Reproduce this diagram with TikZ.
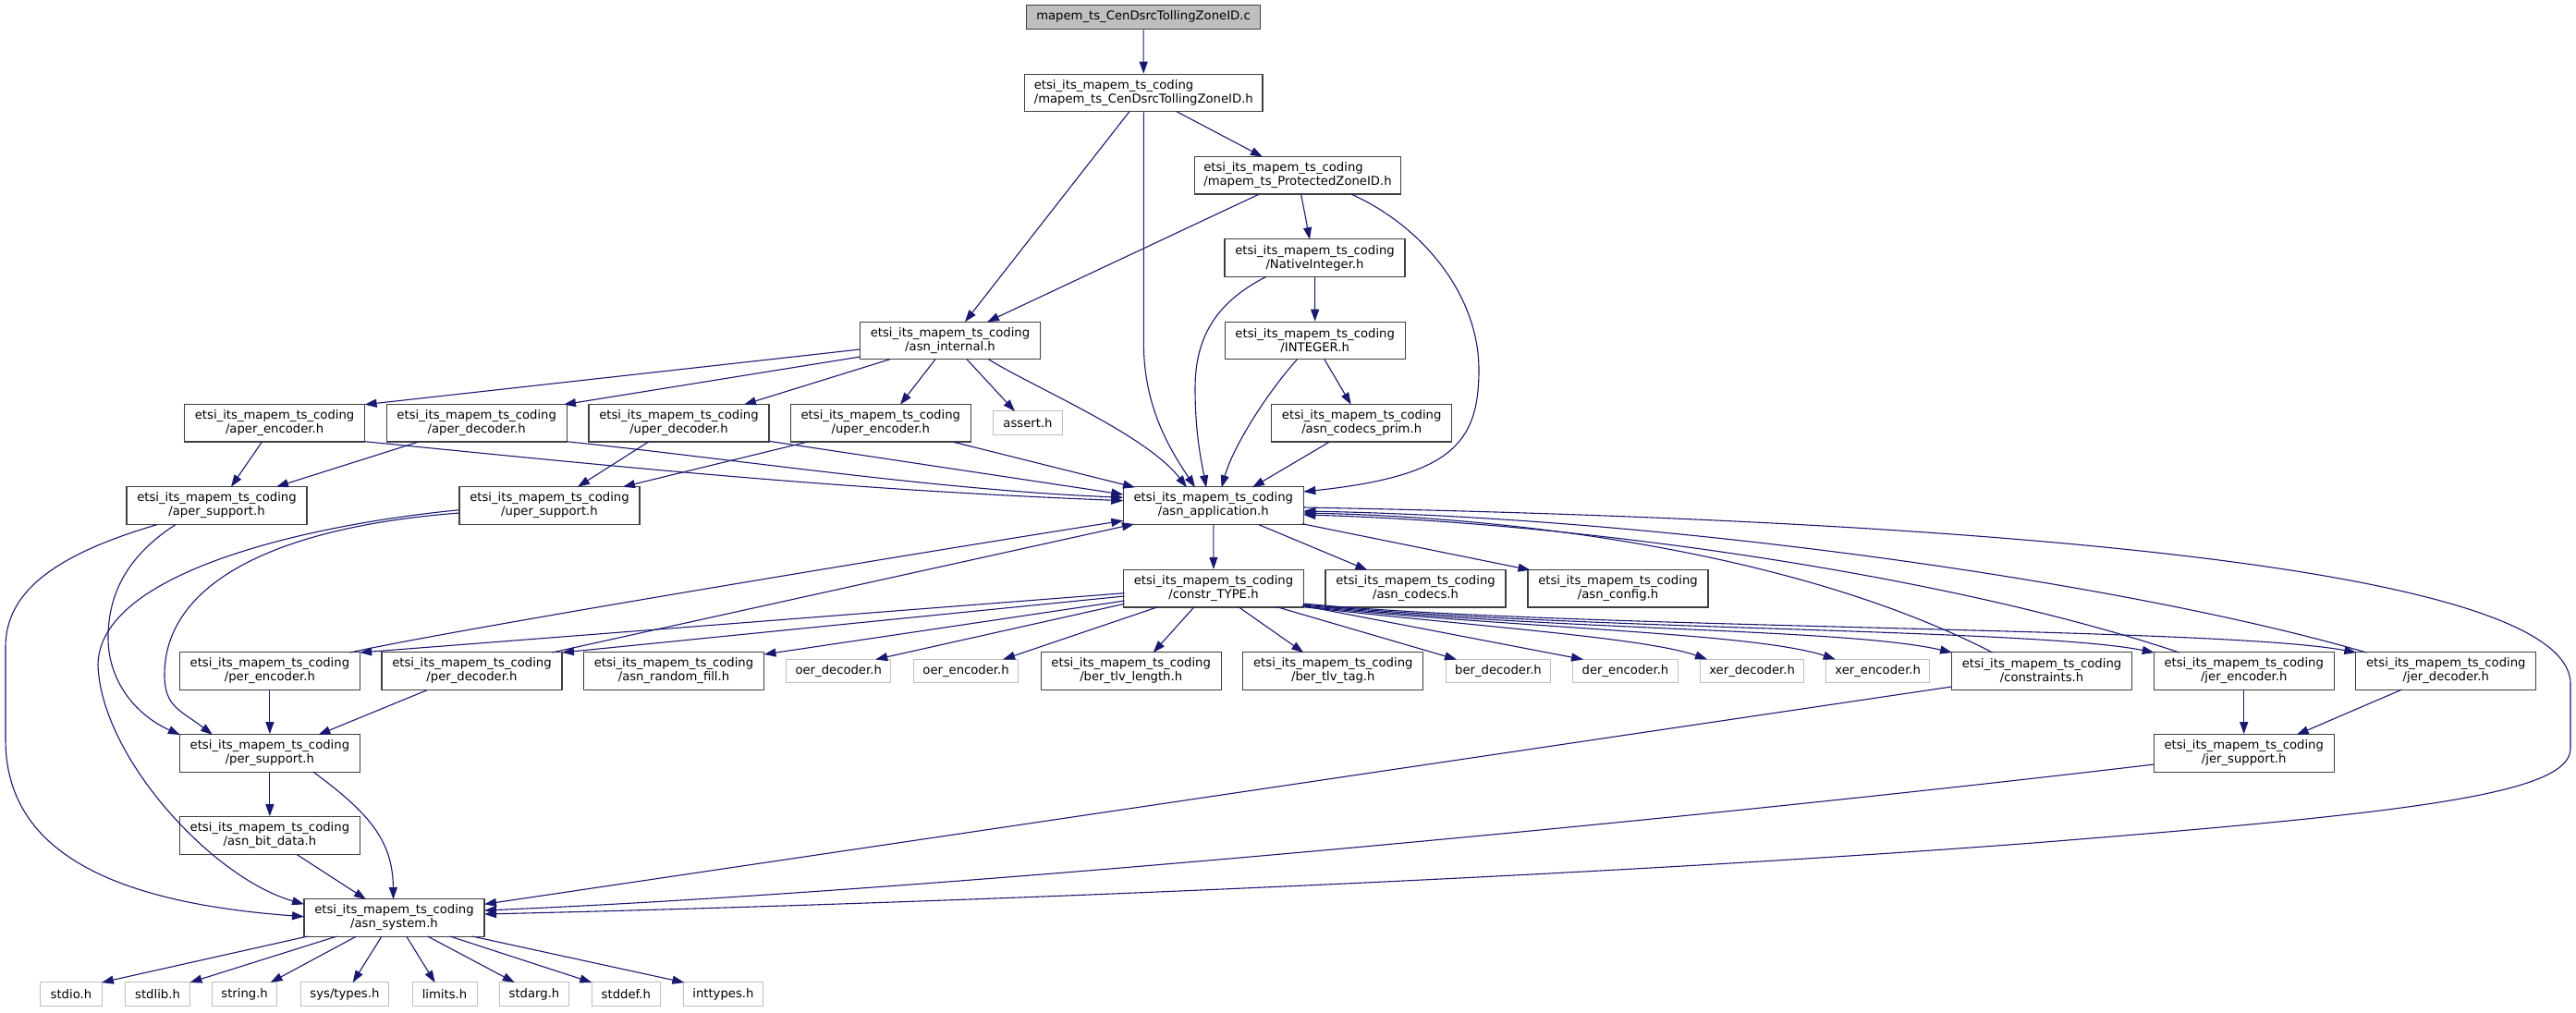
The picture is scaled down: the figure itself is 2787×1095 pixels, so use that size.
\documentclass[tikz,border=0pt]{standalone}
\usepackage{fontspec}
\setmainfont{DejaVu Sans}
\usetikzlibrary{arrows.meta}
\definecolor{edgec}{HTML}{191970}
\definecolor{nodeb}{HTML}{404040}
\definecolor{sysb}{HTML}{BFBFBF}
\definecolor{topf}{HTML}{BFBFBF}
\begin{document}
\begin{tikzpicture}[x=1pt,y=-1pt,
  box/.style={draw=nodeb, line width=1.3pt, fill=white, rectangle, inner sep=0pt,
    minimum height=40.4pt, minimum width=195pt, align=center, font=\fontsize{13.2}{15}\selectfont},
  lbox/.style={box, align=left},
  sys/.style={draw=sysb, line width=1pt, fill=white, rectangle, inner sep=0pt,
    minimum height=25.5pt, font=\fontsize{13.2}{15}\selectfont},
  edge/.style={draw=edgec, line width=1.1pt, -{Triangle[length=13pt,width=9pt]}},
]
\useasboundingbox (0,0) rectangle (2787,1095);
% ---------- nodes ----------
\node[box, fill=topf, minimum height=26.4pt, minimum width=253pt] (cfile) at (1237,18.5) {mapem\_ts\_CenDsrcTollingZoneID.c};
\node[lbox, minimum width=257.5pt] (cenh) at (1237.3,100.5) {etsi\_its\_mapem\_ts\_coding\\/mapem\_ts\_CenDsrcTollingZoneID.h};
\node[lbox, minimum width=223pt] (protected) at (1404,189.9) {etsi\_its\_mapem\_ts\_coding\\/mapem\_ts\_ProtectedZoneID.h};
\node[box] (native) at (1422.5,279) {etsi\_its\_mapem\_ts\_coding\\/NativeInteger.h};
\node[box] (asnint) at (1028,368.5) {etsi\_its\_mapem\_ts\_coding\\/asn\_internal.h};
\node[box] (integer) at (1422.7,368.5) {etsi\_its\_mapem\_ts\_coding\\/INTEGER.h};
\node[box] (aperenc) at (297.1,457.7) {etsi\_its\_mapem\_ts\_coding\\/aper\_encoder.h};
\node[box] (aperdec) at (515.7,457.7) {etsi\_its\_mapem\_ts\_coding\\/aper\_decoder.h};
\node[box] (uperdec) at (734.5,457.7) {etsi\_its\_mapem\_ts\_coding\\/uper\_decoder.h};
\node[box] (uperenc) at (952.8,457.7) {etsi\_its\_mapem\_ts\_coding\\/uper\_encoder.h};
\node[sys, minimum width=74.6pt, minimum height=25.7pt] (assert) at (1112,457.8) {assert.h};
\node[box] (codecsprim) at (1473.2,457.7) {etsi\_its\_mapem\_ts\_coding\\/asn\_codecs\_prim.h};
\node[box] (apersup) at (234.5,547) {etsi\_its\_mapem\_ts\_coding\\/aper\_support.h};
\node[box] (upersup) at (594.5,547) {etsi\_its\_mapem\_ts\_coding\\/uper\_support.h};
\node[box] (asnapp) at (1312.8,547) {etsi\_its\_mapem\_ts\_coding\\/asn\_application.h};
\node[box] (constr) at (1313,636.7) {etsi\_its\_mapem\_ts\_coding\\/constr\_TYPE.h};
\node[box] (asncodecs) at (1531.5,636.7) {etsi\_its\_mapem\_ts\_coding\\/asn\_codecs.h};
\node[box] (asnconfig) at (1750.5,636.7) {etsi\_its\_mapem\_ts\_coding\\/asn\_config.h};
\node[box] (perenc) at (291.9,726) {etsi\_its\_mapem\_ts\_coding\\/per\_encoder.h};
\node[box] (perdec) at (510.5,726) {etsi\_its\_mapem\_ts\_coding\\/per\_decoder.h};
\node[box] (randfill) at (729,726) {etsi\_its\_mapem\_ts\_coding\\/asn\_random\_fill.h};
\node[sys, minimum width=113pt] (oerdec) at (907.2,726) {oer\_decoder.h};
\node[sys, minimum width=113pt] (oerenc) at (1045.1,726) {oer\_encoder.h};
\node[box] (bertlvlen) at (1223.7,726) {etsi\_its\_mapem\_ts\_coding\\/ber\_tlv\_length.h};
\node[box] (bertlvtag) at (1442.3,726) {etsi\_its\_mapem\_ts\_coding\\/ber\_tlv\_tag.h};
\node[sys, minimum width=113pt] (berdec) at (1621,726) {ber\_decoder.h};
\node[sys, minimum width=113.5pt] (derenc) at (1758.5,726) {der\_encoder.h};
\node[sys, minimum width=112pt] (xerdec) at (1895.6,726) {xer\_decoder.h};
\node[sys, minimum width=112pt] (xerenc) at (2031.7,726) {xer\_encoder.h};
\node[box] (constraints) at (2209,726) {etsi\_its\_mapem\_ts\_coding\\/constraints.h};
\node[box] (jerenc) at (2427.7,726) {etsi\_its\_mapem\_ts\_coding\\/jer\_encoder.h};
\node[box] (jerdec) at (2646.3,726) {etsi\_its\_mapem\_ts\_coding\\/jer\_decoder.h};
\node[box] (persup) at (291.9,815) {etsi\_its\_mapem\_ts\_coding\\/per\_support.h};
\node[box] (jersup) at (2427.7,815) {etsi\_its\_mapem\_ts\_coding\\/jer\_support.h};
\node[box] (bitdata) at (291.9,904) {etsi\_its\_mapem\_ts\_coding\\/asn\_bit\_data.h};
\node[box] (asnsys) at (426.5,993) {etsi\_its\_mapem\_ts\_coding\\/asn\_system.h};
\node[sys, minimum width=66.6pt] (stdio) at (76.9,1075.5) {stdio.h};
\node[sys, minimum width=70pt] (stdlib) at (170.5,1075.5) {stdlib.h};
\node[sys, minimum width=70pt] (string) at (264.6,1075.5) {string.h};
\node[sys, minimum width=95.8pt] (systypes) at (372.9,1075.5) {sys/types.h};
\node[sys, minimum width=70pt] (limits) at (481,1075.5) {limits.h};
\node[sys, minimum width=74.6pt] (stdarg) at (578,1075.5) {stdarg.h};
\node[sys, minimum width=74.6pt] (stddef) at (677.3,1075.5) {stddef.h};
\node[sys, minimum width=86pt] (inttypes) at (782.4,1075.5) {inttypes.h};
% ---------- edges ----------
\draw[edge] (cfile) -- (cenh);
\draw[edge] ([shift={(-15.4,20.2)}]cenh.center) -- ([shift={(16,-20.2)}]asnint.center);
\draw[edge] ([shift={(35.7,20.2)}]cenh.center) -- ([shift={(-38,-20.2)}]protected.center);
\draw[edge] (cenh.south) -- (1237.3,370) .. controls (1237.3,440) and (1265,485) .. ([shift={(-19.8,-19.7)}]asnapp.center);
\draw[edge] ([shift={(-41.5,20.1)}]protected.center) -- ([shift={(40,-20.2)}]asnint.center);
\draw[edge] ([shift={(3.6,20.1)}]protected.center) -- ([shift={(-5.5,-20)}]native.center);
\draw[edge] ([shift={(57.7,20.1)}]protected.center) .. controls (1540,245) and (1600,320) .. (1600,400) .. controls (1600,480) and (1570,515) .. ([shift={(97.5,-15)}]asnapp.center);
\draw[edge] (native) -- (integer);
\draw[edge] ([shift={(-52.5,20.3)}]native.center) .. controls (1320,325) and (1293,360) .. (1293,420) .. controls (1293,470) and (1300,500) .. ([shift={(-7.8,-19.7)}]asnapp.center);
\draw[edge] ([shift={(10.3,20.5)}]integer.center) -- ([shift={(-11.5,-20)}]codecsprim.center);
\draw[edge] ([shift={(-19.4,20.5)}]integer.center) .. controls (1375,420) and (1335,480) .. ([shift={(8.9,-19.7)}]asnapp.center);
\draw[edge] ([shift={(-35.2,20.6)}]codecsprim.center) -- ([shift={(42.2,-19.7)}]asnapp.center);
\draw[edge] ([shift={(-97.4,9.5)}]asnint.center) -- ([shift={(97.5,-20)}]aperenc.center);
\draw[edge] ([shift={(-97.4,17.5)}]asnint.center) -- ([shift={(94.3,-20)}]aperdec.center);
\draw[edge] ([shift={(-65,20.2)}]asnint.center) -- ([shift={(70.5,-20)}]uperdec.center);
\draw[edge] ([shift={(-16,20.2)}]asnint.center) -- ([shift={(21.2,-20)}]uperenc.center);
\draw[edge] ([shift={(18,20.2)}]asnint.center) -- ([shift={(-14,-12.8)}]assert.center);
\draw[edge] ([shift={(41.4,20.2)}]asnint.center) .. controls (1120,420) and (1240,470) .. ([shift={(-28.8,-19.7)}]asnapp.center);
\draw[edge] ([shift={(-13.6,20.3)}]aperenc.center) -- ([shift={(15.5,-20.3)}]apersup.center);
\draw[edge] ([shift={(97.5,20)}]aperenc.center) .. controls (694.6,507.7) and (915,529.7) .. ([shift={(-97.5,-5.3)}]asnapp.center);
\draw[edge] ([shift={(-62.7,20.3)}]aperdec.center) -- ([shift={(64.5,-20.3)}]apersup.center);
\draw[edge] ([shift={(97.3,20)}]aperdec.center) .. controls (813,499) and (1015,530) .. ([shift={(-97.5,-8.7)}]asnapp.center);
\draw[edge] ([shift={(-32.8,20.3)}]uperdec.center) -- ([shift={(30.5,-20.3)}]upersup.center);
\draw[edge] ([shift={(97.5,19.6)}]uperdec.center) -- ([shift={(-97.5,-12)}]asnapp.center);
\draw[edge] ([shift={(-78.8,20.3)}]uperenc.center) -- ([shift={(79.5,-20.3)}]upersup.center);
\draw[edge] ([shift={(78.9,20.6)}]uperenc.center) -- ([shift={(-84.8,-19.7)}]asnapp.center);
\draw[edge] ([shift={(-64.9,20.7)}]apersup.center) .. controls (60,600) and (6,640) .. (6,700) -- (6,800) .. controls (6,910) and (100,975) .. ([shift={(-97.5,-1.3)}]asnsys.center);
\draw[edge] ([shift={(-44.8,20.7)}]apersup.center) .. controls (140,600) and (117,640) .. (117,690) .. controls (117,740) and (150,775) .. ([shift={(-97,-20)}]persup.center);
\draw[edge] ([shift={(-97.5,4.7)}]upersup.center) .. controls (330,568) and (106,620) .. (106,720) .. controls (110,820) and (230,950) .. ([shift={(-97.5,-14.7)}]asnsys.center);
\draw[edge] ([shift={(-97.5,8)}]upersup.center) .. controls (300,570) and (178,630) .. (178,730) .. controls (178,765) and (195,768) .. ([shift={(-61.9,-20)}]persup.center);
\draw[edge] (asnapp) -- (constr);
\draw[edge] ([shift={(49.2,20.7)}]asnapp.center) -- ([shift={(-52.1,-20)}]asncodecs.center);
\draw[edge] ([shift={(96,19.7)}]asnapp.center) -- ([shift={(-95,-20)}]asnconfig.center);
\draw[edge] ([shift={(97.5,2)}]asnapp.center) .. controls (2000,560) and (2781,600) .. (2781,740) -- (2781,810) .. controls (2781,860) and (2600,880) .. (2200,912) .. controls (1700,950) and (1000,978) .. ([shift={(97.5,-4)}]asnsys.center);
\draw[edge] ([shift={(-96.5,5)}]constr.center) -- ([shift={(97.3,-20)}]perenc.center);
\draw[edge] ([shift={(-96.5,8.3)}]constr.center) -- ([shift={(97.5,-20)}]perdec.center);
\draw[edge] ([shift={(-96.5,13.3)}]constr.center) -- ([shift={(97.5,-18)}]randfill.center);
\draw[edge] ([shift={(-96.5,16.6)}]constr.center) -- ([shift={(40,-12.5)}]oerdec.center);
\draw[edge] ([shift={(-60.3,20)}]constr.center) -- ([shift={(40,-12.5)}]oerenc.center);
\draw[edge] ([shift={(-21,20)}]constr.center) -- ([shift={(24,-20)}]bertlvlen.center);
\draw[edge] ([shift={(27,20)}]constr.center) -- ([shift={(-32,-20)}]bertlvtag.center);
\draw[edge] ([shift={(68.5,20)}]constr.center) -- ([shift={(-45,-12.5)}]berdec.center);
\draw[edge] ([shift={(96,18.5)}]constr.center) -- ([shift={(-45.5,-12.5)}]derenc.center);
\draw[edge] ([shift={(97,20)}]constr.center) .. controls (1600,678) and (1780,690) .. ([shift={(-48.6,-12.7)}]xerdec.center);
\draw[edge] ([shift={(97,19.3)}]constr.center) .. controls (1650,680) and (1900,685) .. ([shift={(-46,-12.7)}]xerenc.center);
\draw[edge] ([shift={(97,18.3)}]constr.center) .. controls (1700,683) and (2000,680) .. ([shift={(-97,-20)}]constraints.center);
\draw[edge] ([shift={(97,17.3)}]constr.center) .. controls (1700,682) and (2200,680) .. ([shift={(-97,-20)}]jerenc.center);
\draw[edge] ([shift={(97,16.3)}]constr.center) .. controls (1700,681) and (2400,678) .. ([shift={(-97,-20)}]jerdec.center);
\draw[edge] (perenc) -- (persup);
\draw[edge] ([shift={(86.9,-20)}]perenc.center) .. controls (480,683) and (1000,597) .. ([shift={(-97.5,16.3)}]asnapp.center);
\draw[edge] ([shift={(-48.5,20.7)}]perdec.center) -- ([shift={(52.5,-20)}]persup.center);
\draw[edge] ([shift={(86.5,-20)}]perdec.center) -- ([shift={(-85.8,20)}]asnapp.center);
\draw[edge] (persup) -- (bitdata);
\draw[edge] ([shift={(46.8,20)}]persup.center) .. controls (400,880) and (425,910) .. ([shift={(-1,-20)}]asnsys.center);
\draw[edge] ([shift={(29.5,20.7)}]bitdata.center) -- ([shift={(-30.5,-20)}]asnsys.center);
\draw[edge] ([shift={(-93.5,20)}]asnsys.center) -- ([shift={(33,-12.5)}]stdio.center);
\draw[edge] ([shift={(-62,20)}]asnsys.center) -- ([shift={(35,-12.5)}]stdlib.center);
\draw[edge] ([shift={(-40.8,20)}]asnsys.center) -- ([shift={(28,-12.5)}]string.center);
\draw[edge] ([shift={(-13.5,20)}]asnsys.center) -- ([shift={(8.8,-12.5)}]systypes.center);
\draw[edge] ([shift={(13.2,20)}]asnsys.center) -- ([shift={(-10.4,-12.5)}]limits.center);
\draw[edge] ([shift={(36.1,20)}]asnsys.center) -- ([shift={(-21.2,-12.5)}]stdarg.center);
\draw[edge] ([shift={(60.2,20)}]asnsys.center) -- ([shift={(-37,-12.5)}]stddef.center);
\draw[edge] ([shift={(84.3,20)}]asnsys.center) -- ([shift={(-42,-12.5)}]inttypes.center);
\draw[edge] ([shift={(-53.3,-20)}]constraints.center) .. controls (1950,600) and (1650,560) .. ([shift={(97.5,8)}]asnapp.center);
\draw[edge] ([shift={(-69.7,-20)}]jerenc.center) .. controls (2100,620) and (1700,565) .. ([shift={(97.5,10)}]asnapp.center);
\draw[edge] ([shift={(-86,-20)}]jerdec.center) .. controls (2300,630) and (1800,560) .. ([shift={(97.5,6)}]asnapp.center);
\draw[edge] ([shift={(-97.6,17)}]constraints.center) -- ([shift={(97.5,-14.7)}]asnsys.center);
\draw[edge] ([shift={(-97.3,12)}]jersup.center) .. controls (1800,890) and (1000,965) .. ([shift={(97.5,-8)}]asnsys.center);
\draw[edge] (jerenc) -- (jersup);
\draw[edge] ([shift={(-47.5,20)}]jerdec.center) -- ([shift={(57,-20)}]jersup.center);
\end{tikzpicture}
\end{document}
